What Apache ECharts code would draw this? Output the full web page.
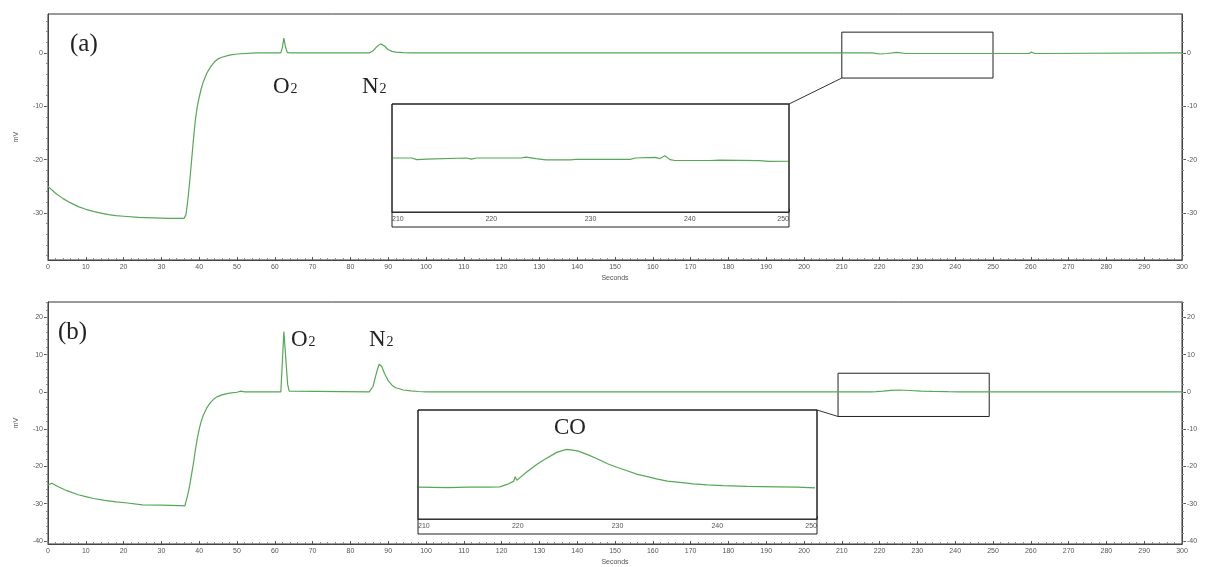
<!DOCTYPE html>
<html><head><meta charset="utf-8">
<script src="https://cdn.jsdelivr.net/npm/echarts@6/dist/echarts.min.js"></script>
<style>html,body{margin:0;padding:0;background:#fff}#c{width:1211px;height:567px}</style>
</head><body><div id="c"></div>
<script>
// ---- data (seconds, mV) ----
const traceA = [[0,-25.0],[2,-26.3],[4,-27.3],[6,-28.1],[8,-28.8],[10,-29.3],[12,-29.7],[14,-30.0],[16,-30.3],[18,-30.5],
 [20,-30.6],[24,-30.8],[28,-30.9],[32,-31.0],[36,-31.0],[36.5,-30.3],[37,-27.5],[37.5,-24.0],[38,-20.0],[38.5,-16.0],
 [39,-12.5],[39.5,-10.0],[40,-8.3],[40.5,-6.8],[41,-5.6],[42,-3.8],[43,-2.6],[44,-1.7],[45,-1.1],[46,-0.8],
 [48,-0.4],[50,-0.2],[55,0],[61.6,0],[62,1.0],[62.4,2.8],[62.8,1.2],[63.3,0.1],[64,0],[85,0],
 [86,0.4],[87,1.2],[88,1.7],[89,1.3],[90,0.6],[91,0.3],[92,0.15],[94,0.05],[96,0],[210,0],
 [218,0],[220,-0.2],[222,-0.1],[224.5,0.1],[227,-0.1],[230,-0.1],[259.5,-0.1],[260.2,0.15],[261,-0.1],[300,0]];
const traceB = [[0,-25.0],[1,-24.5],[3,-25.6],[5,-26.5],[8,-27.6],[10,-28.1],[12,-28.6],[15,-29.1],[18,-29.5],[21,-29.8],
 [21.5,-30.1],[25,-30.3],[30,-30.4],[35,-30.5],[36.2,-30.6],[37,-27.5],[37.5,-25.0],[38,-22.0],[38.5,-19.0],[39,-15.5],
 [39.5,-12.5],[40,-10.0],[40.5,-8.0],[41,-6.5],[42,-4.3],[43,-2.8],[44,-1.8],[45,-1.2],[46,-0.8],[48,-0.35],
 [50,-0.1],[51,0.2],[52,0],[61.6,0],[62,8.0],[62.4,16.2],[62.9,9.0],[63.4,2.0],[63.8,0.2],[64.2,0],
 [85,0],[86,1.5],[87,5.5],[87.6,7.4],[88.3,6.8],[89,5.0],[90,3.0],[91,1.8],[92,1.1],[94,0.5],
 [96,0.25],[98,0.1],[100,0],[218,0],[219,0.05],[221,0.2],[223,0.4],[225,0.5],[228,0.37],[231,0.22],
 [234,0.11],[238,0.04],[241,0.02],[246,0],[300,0]];
const insetA = [[210,0],[212,0],[212.5,-0.015],[213.5,-0.01],[217.5,0],[218,-0.01],[218.5,0],[223,0],[223.5,0.008],
 [224.5,-0.005],[225.5,-0.017],[228,-0.017],[228.5,-0.012],[234,-0.012],[234.5,0],[236.5,0.005],[237,-0.005],
 [237.5,0.02],[238,-0.015],[238.5,-0.023],[242,-0.023],[243,-0.02],[245,-0.022],[247,-0.025],[248,-0.032],[250,-0.03]];
const insetB = [[210,0],[213,-0.005],[215,0],[217,0],[218.2,0.005],[219,0.04],[219.6,0.08],[219.75,0.14],[219.9,0.09],
 [220.9,0.2],[222,0.31],[222.6,0.36],[223.9,0.46],[224.9,0.5],[226,0.48],[227,0.43],[227.9,0.38],[229,0.31],
 [230,0.26],[230.9,0.22],[232,0.17],[233,0.14],[233.9,0.11],[235,0.08],[236.5,0.06],[237.6,0.045],[239,0.03],
 [240.6,0.02],[243,0.012],[246,0.005],[248,0],[249.8,-0.01]];
const zoomBoxA = [210, 250, -4.7, 3.9];
const zoomBoxB = [209, 249, -6.6, 5.0];
const majorTicksA = [-30,-20,-10,0];
const minorTicksA = [-38,-36,-34,-32,-30,-28,-26,-24,-22,-20,-18,-16,-14,-12,-10,-8,-6,-4,-2,0,2,4,6];
const majorTicksB = [-40,-30,-20,-10,0,10,20];
const minorTicksB = [-40,-38,-36,-34,-32,-30,-28,-26,-24,-22,-20,-18,-16,-14,-12,-10,-8,-6,-4,-2,0,2,4,6,8,10,12,14,16,18,20,22,24];

const GREEN = '#55a855';
const AX = '#444', LAB = '#555';
const grids = [
  {left:48, top:14, width:1134, height:246},
  {left:48, top:302, width:1134, height:245},
  {left:392, top:104, width:397, height:108},
  {left:418, top:410, width:399, height:109}
];
function xMain(gi){
  return {gridIndex:gi, type:'value', min:0, max:300, interval:10,
    axisLine:{onZero:false, lineStyle:{color:AX}}, axisTick:{inside:true, length:3, lineStyle:{color:LAB}},
    minorTick:{show:true, splitNumber:5, length:2, lineStyle:{color:'#888'}},
    axisLabel:{fontSize:7, color:LAB, margin:4, fontFamily:'Liberation Sans'},
    splitLine:{show:false}, minorSplitLine:{show:false},
    name:'Seconds', nameLocation:'middle', nameGap:15, nameTextStyle:{fontSize:7, color:LAB, fontFamily:'Liberation Sans'}};
}
function xInset(gi){
  return {gridIndex:gi, type:'value', min:210, max:250, interval:10,
    axisLine:{onZero:false, lineStyle:{color:AX}}, axisTick:{inside:true, length:3, lineStyle:{color:LAB}},
    minorTick:{show:true, splitNumber:5, length:2, lineStyle:{color:'#888'}},
    axisLabel:{fontSize:7, color:LAB, margin:4, fontFamily:'Liberation Sans', alignMinLabel:'left', alignMaxLabel:'right'},
    splitLine:{show:false}};
}
function yAxes(gi, min, max, major, minor){
  const base = {gridIndex:gi, type:'value', min:min, max:max, splitLine:{show:false}};
  return [
    Object.assign({}, base, {position:'left', axisLine:{show:true, onZero:false, lineStyle:{color:AX}},
      axisTick:{show:true, customValues:major, length:4, lineStyle:{color:LAB}},
      axisLabel:{customValues:major, fontSize:7, color:LAB, margin:5, fontFamily:'Liberation Sans'},
      name:'mV', nameLocation:'middle', nameGap:28, nameTextStyle:{fontSize:7, color:LAB, fontFamily:'Liberation Sans'}}),
    Object.assign({}, base, {position:'left', axisLine:{show:false, onZero:false},
      axisTick:{show:true, customValues:minor, length:2, lineStyle:{color:'#888'}}, axisLabel:{show:false}}),
    Object.assign({}, base, {position:'right', axisLine:{show:true, onZero:false, lineStyle:{color:AX}},
      axisTick:{show:true, customValues:major, length:4, lineStyle:{color:LAB}},
      axisLabel:{customValues:major, fontSize:7, color:LAB, margin:5, fontFamily:'Liberation Sans'}}),
    Object.assign({}, base, {position:'right', axisLine:{show:false, onZero:false},
      axisTick:{show:true, customValues:minor, length:2, lineStyle:{color:'#888'}}, axisLabel:{show:false}})
  ];
}
function zoomArea(b){
  return {silent:true, label:{show:false},
    itemStyle:{color:'rgba(0,0,0,0)', borderColor:'#222', borderWidth:1},
    data:[[{xAxis:b[0], yAxis:b[2]},{xAxis:b[1], yAxis:b[3]}]]};
}
const lineSeries = (xi, yi, data, extra) => Object.assign({type:'line', xAxisIndex:xi, yAxisIndex:yi, data:data,
  showSymbol:false, symbol:'none', lineStyle:{color:GREEN, width:1.2}, itemStyle:{color:GREEN}}, extra||{});

const serif = '"Liberation Serif", "DejaVu Serif", serif';
function chem(main, sub, x, y){
  return {type:'text', x:x, y:y, z:100, style:{text:'{m|'+main+'}{s|'+sub+'}', textVerticalAlign:'middle', fill:'#222',
    rich:{m:{fontSize:23, fontFamily:serif, fill:'#222', verticalAlign:'bottom'},
          s:{fontSize:14, fontFamily:serif, fill:'#222', verticalAlign:'bottom', padding:[0,0,2,1]}}}};
}
const option = {
  animation:false, backgroundColor:'#fff',
  grid: [
    Object.assign({show:true, borderColor:'#333', borderWidth:1, backgroundColor:'#fff'}, grids[0]),
    Object.assign({show:true, borderColor:'#333', borderWidth:1, backgroundColor:'#fff'}, grids[1]),
    Object.assign({show:true, borderColor:'#222', borderWidth:1, backgroundColor:'#fff', z:5}, grids[2]),
    Object.assign({show:true, borderColor:'#222', borderWidth:1, backgroundColor:'#fff', z:5}, grids[3])
  ],
  xAxis:[xMain(0), xMain(1), xInset(2), xInset(3)],
  yAxis:[].concat(yAxes(0,-38.8,7.3,majorTicksA,minorTicksA), yAxes(1,-40.8,24.1,majorTicksB,minorTicksB),
    [{gridIndex:2, type:'value', min:-0.5, max:0.5, show:false},
     {gridIndex:3, type:'value', min:-0.42, max:1.02, show:false}]),
  series:[
    lineSeries(0,0,traceA,{markArea:zoomArea(zoomBoxA)}),
    lineSeries(1,4,traceB,{markArea:zoomArea(zoomBoxB)}),
    lineSeries(2,8,insetA,{z:6}),
    lineSeries(3,9,insetB,{z:6})
  ],
  graphic:[
    {type:'text', x:70, y:44, z:100, style:{text:'(a)', font:'25px '+serif, fill:'#222', textVerticalAlign:'middle'}},
    {type:'text', x:58, y:332, z:100, style:{text:'(b)', font:'25px '+serif, fill:'#222', textVerticalAlign:'middle'}},
    chem('O','2',273,87), chem('N','2',362,87),
    chem('O','2',291,340), chem('N','2',369,340),
    {type:'text', x:570, y:428, z:100, style:{text:'CO', font:'23px '+serif, fill:'#222', textAlign:'center', textVerticalAlign:'middle'}}
  ]
};
const chart = echarts.init(document.getElementById('c'), null, {renderer:'canvas'});
chart.setOption(option);
// connectors and outer inset boxes
const extra = [];
[[0,2,zoomBoxA,[250,0.5],[210,-0.5]],[1,3,zoomBoxB,[250,1.02],[210,-0.42]]].forEach(function(c){
  const p1 = chart.convertToPixel({gridIndex:c[1]}, c[3]);
  const p2 = chart.convertToPixel({gridIndex:c[0]}, [c[2][0], c[2][2]]);
  extra.push({type:'line', z:50, shape:{x1:p1[0], y1:p1[1], x2:p2[0], y2:p2[1]}, style:{stroke:'#333', lineWidth:1}});
  const tl = chart.convertToPixel({gridIndex:c[1]}, [210, c[3][1]]);
  const br = chart.convertToPixel({gridIndex:c[1]}, [250, c[4][1]]);
  extra.push({type:'rect', z:50, shape:{x:tl[0], y:tl[1], width:br[0]-tl[0], height:br[1]-tl[1]+15},
    style:{fill:'none', stroke:'#222', lineWidth:1}});
});
chart.setOption({graphic: option.graphic.concat(extra)});
</script></body></html>
